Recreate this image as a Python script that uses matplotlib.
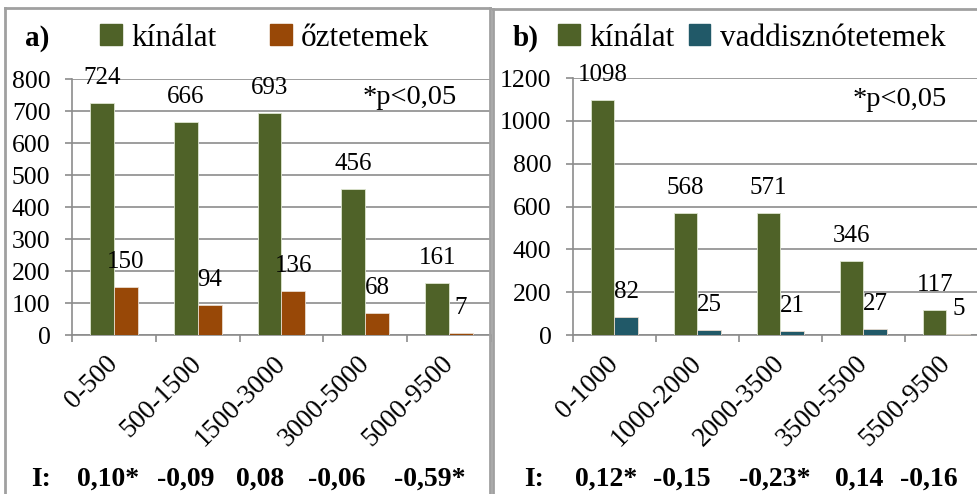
import numpy as np
import matplotlib
matplotlib.use("Agg")
import matplotlib.pyplot as plt
from matplotlib.patches import Patch
from matplotlib.lines import Line2D
from matplotlib.transforms import ScaledTranslation

plt.rcParams["font.family"] = ["Liberation Serif", "DejaVu Serif"]

# panel a) roe deer
cats_a = ["0-500", "500-1500", "1500-3000", "3000-5000", "5000-9500"]
supply_a = [724, 666, 693, 456, 161]
carcass_a = [150, 94, 136, 68, 7]
index_a = ["0,10*", "-0,09", "0,08", "-0,06", "-0,59*"]

# panel b) wild boar
cats_b = ["0-1000", "1000-2000", "2000-3500", "3500-5500", "5500-9500"]
supply_b = [1098, 568, 571, 346, 117]
carcass_b = [82, 25, 21, 27, 5]
index_b = ["0,12*", "-0,15", "-0,23*", "0,14", "-0,16"]

GREEN = "#4F6228"
ORANGE = "#984807"
TEAL = "#215968"
GRID = "#8C8C8C"

W, H = 978, 494
fig = plt.figure(figsize=(W / 100, H / 100), dpi=100)


def fx(px):
    return px / W


def fy(py):
    return 1 - py / H


def panel(rect, cats, supply, carcass, c2, ymax, ystep):
    ax = fig.add_axes(rect)
    x = np.arange(len(cats))
    bw = 0.285
    ax.bar(x - bw / 2, supply, bw, color=GREEN, edgecolor="#dfe6d0", linewidth=0.6, zorder=3)
    ax.bar(x + bw / 2, carcass, bw, color=c2, edgecolor="#e8dccf", linewidth=0.6, zorder=3)
    for xi, v in zip(x - bw / 2, supply):
        ax.annotate(str(v), (xi, v), xytext=(0, 18), textcoords="offset points",
                    ha="center", va="center", fontsize=18)
    for xi, v in zip(x + bw / 2, carcass):
        ax.annotate(str(v), (xi, v), xytext=(0, 18), textcoords="offset points",
                    ha="center", va="center", fontsize=18)
    ax.set_xlim(-0.5, len(cats) - 0.5)
    ax.set_ylim(0, ymax)
    ax.set_yticks(np.arange(0, ymax + 1, ystep))
    ax.set_xticks(x)
    ax.set_xticklabels(cats, rotation=45, ha="right", va="center",
                       rotation_mode="anchor", fontsize=19.5)
    shift = ScaledTranslation(3 / 100, 0, fig.dpi_scale_trans)
    for lbl in ax.get_xticklabels():
        lbl.set_transform(lbl.get_transform() + shift)
    ax.set_xticks(np.arange(len(cats) + 1) - 0.5, minor=True)
    ax.tick_params(axis="x", which="major", length=0, pad=18)
    ax.tick_params(axis="x", which="minor", length=5, color=GRID, width=1.2)
    ax.tick_params(axis="y", length=5, color=GRID, width=1.2, labelsize=18.5, pad=10.5)
    ax.yaxis.grid(True, color=GRID, linewidth=1.2, zorder=0)
    ax.set_axisbelow(True)
    for s in ("top", "right"):
        ax.spines[s].set_visible(False)
    for s in ("left", "bottom"):
        ax.spines[s].set_color(GRID)
        ax.spines[s].set_linewidth(1.2)
    ax.patch.set_alpha(0)
    return ax


ax_a = panel([fx(72), fy(335), fx(491 - 72), fy(79) - fy(335)],
             cats_a, supply_a, carcass_a, ORANGE, 800, 100)
ax_b = panel([fx(573), fy(335), fx(988 - 573), fy(78) - fy(335)],
             cats_b, supply_b, carcass_b, TEAL, 1200, 200)

# panel frames
border = dict(color="#A0A0A0", linewidth=2, transform=fig.transFigure, clip_on=False)
fig.add_artist(Line2D([fx(5), fx(5)], [0, fy(8)], **border))
fig.add_artist(Line2D([fx(5), fx(490)], [fy(8), fy(8)], **border))
fig.add_artist(Line2D([fx(490), fx(490)], [0, fy(8)], **border))
fig.add_artist(Line2D([fx(493), fx(493)], [0, fy(9)], **border))
fig.add_artist(Line2D([fx(493), 1], [fy(9), fy(9)], **border))

# panel letters and legends
fig.text(fx(25), fy(38), "a)", fontsize=21, fontweight="bold", va="center")
fig.text(fx(513), fy(38), "b)", fontsize=21, fontweight="bold", va="center")

leg_kw = dict(frameon=False, ncol=2, fontsize=22.5, handlelength=0.7, handleheight=0.7,
              handletextpad=0.3, borderpad=0, borderaxespad=0, loc="center left")
fig.legend(handles=[Patch(color=GREEN, label="kínálat"), Patch(color=ORANGE, label="őztetemek")],
           bbox_to_anchor=(fx(100), fy(38)), columnspacing=1.7, **leg_kw)
fig.legend(handles=[Patch(color=GREEN, label="kínálat"), Patch(color=TEAL, label="vaddisznótetemek")],
           bbox_to_anchor=(fx(558), fy(38)), columnspacing=0.45, **leg_kw)

fig.text(fx(410), fy(98), "*p<0,05", fontsize=20.5, ha="center", va="center")
fig.text(fx(900), fy(100), "*p<0,05", fontsize=20.5, ha="center", va="center")

# I index row
fig.text(fx(41), fy(479), "I:", fontsize=20, fontweight="bold", ha="center", va="center")
for xc, s in zip([108, 186, 260, 337, 430], index_a):
    fig.text(fx(xc), fy(479), s, fontsize=20, fontweight="bold", ha="center", va="center")
fig.text(fx(534), fy(479), "I:", fontsize=20, fontweight="bold", ha="center", va="center")
for xc, s in zip([606, 682, 775, 859, 929], index_b):
    fig.text(fx(xc), fy(479), s, fontsize=20, fontweight="bold", ha="center", va="center")

fig.savefig("out.png", dpi=100)
